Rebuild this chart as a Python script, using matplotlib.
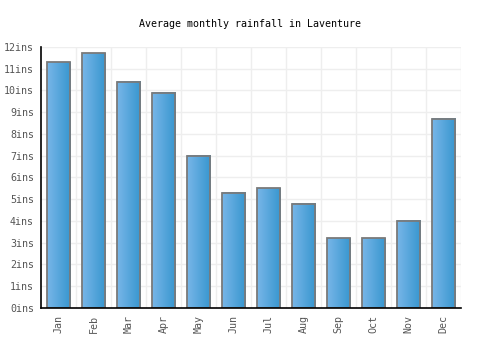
import numpy as np
import matplotlib.pyplot as plt
from matplotlib.colors import LinearSegmentedColormap

months = ['Jan', 'Feb', 'Mar', 'Apr', 'May', 'Jun',
          'Jul', 'Aug', 'Sep', 'Oct', 'Nov', 'Dec']
rainfall = [11.3, 11.7, 10.4, 9.9, 7.0, 5.3, 5.5, 4.8, 3.2, 3.2, 4.0, 8.7]
yticks = list(range(0, 13))
ylabels = [f'{v}ins' for v in yticks]
title = 'Average monthly rainfall in Laventure'

plt.rcParams['font.family'] = ['DejaVu Sans Mono']

fig = plt.figure(figsize=(5, 3.5), dpi=100)
ax = fig.add_axes([0.082, 0.12, 0.84, 0.746])

x = np.arange(len(months))

# horizontal gradient fill for each bar (light left, darker right)
cmap = LinearSegmentedColormap.from_list('bar', ['#78b6e8', '#3796cf'])
grad = np.linspace(0, 1, 64).reshape(1, -1)
width = 0.667
for xi, h in zip(x, rainfall):
    ax.imshow(grad, cmap=cmap, extent=[xi - width / 2, xi + width / 2, 0, h],
              aspect='auto', zorder=2, interpolation='bilinear')

bars = ax.bar(x, rainfall, width=width, facecolor='none',
              edgecolor='#7a7a7a', linewidth=1.3, zorder=5)

ax.set_xlim(-0.5, len(months) - 0.5)
ax.set_ylim(0, 12)

ax.set_xticks(x)
ax.set_xticklabels(months, rotation=90, color='#555555', fontsize=7.2)
ax.set_yticks(yticks)
ax.set_yticklabels(ylabels, color='#555555', fontsize=7.2)
ax.tick_params(length=0, pad=5)

# grid at category boundaries and each inch
for xb in np.arange(0.5, len(months) - 0.5, 1):
    ax.axvline(xb, color='#eeeeee', linewidth=1, zorder=0)
ax.axvline(len(months) - 0.5, color='#eeeeee', linewidth=1, zorder=0)
for yv in yticks[1:]:
    ax.axhline(yv, color='#eeeeee', linewidth=1, zorder=0)

for s in ['top', 'right']:
    ax.spines[s].set_visible(False)
for s in ['left', 'bottom']:
    ax.spines[s].set_color('black')
    ax.spines[s].set_linewidth(1.2)
    ax.spines[s].set_zorder(6)

fig.text(0.5, 0.932, title, ha='center', va='center', fontsize=7.2, color='black')

fig.savefig('out.png', dpi=100)
